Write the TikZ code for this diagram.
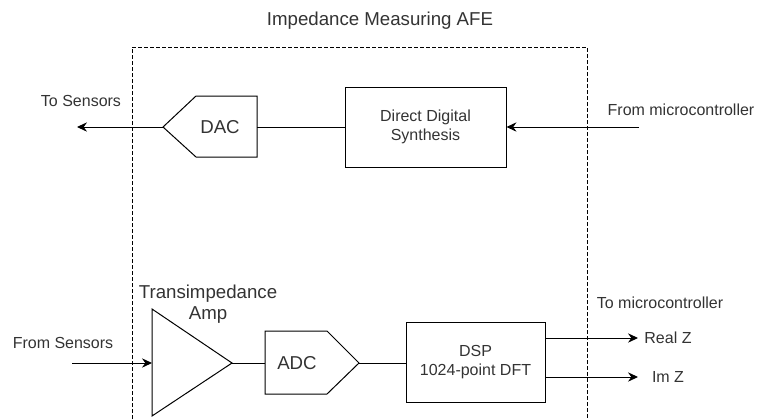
\documentclass[tikz,border=0pt]{standalone}
\usepackage{fontspec}
\setmainfont{Liberation Sans}
\usetikzlibrary{arrows.meta}
\definecolor{txt}{HTML}{333333}
\begin{document}
\begin{tikzpicture}[x=0.75pt,y=-0.75pt,line width=0.75pt,
  lbl/.style={text=txt,font=\fontsize{12}{14}\selectfont,inner sep=0pt,align=center},
  big/.style={text=txt,font=\fontsize{14}{16}\selectfont,inner sep=0pt,align=center},
  conn/.style={draw=black,-{Stealth[length=7.5pt,width=7pt,inset=2.5pt]}},
  blk/.style={draw=black,line width=0.75pt,inner sep=0pt},
  frame/.style={draw=black,line width=0.75pt,dash pattern=on 3pt off 1.5pt}]
\useasboundingbox (0,0) rectangle (758,419);
% frame
\draw[frame] (132,419) -- (132,47) -- (587,47) -- (587,419);
\node[big] (title) at (380,21) {Impedance Measuring AFE};
% DAC
\draw[blk] (163,127) -- (196,96) -- (257,96) -- (257,157) -- (196,157) -- cycle;
\node[big] (dac) at (220,127) {DAC};
\coordinate (dactip) at (163,127);
\coordinate (dacR) at (257,127);
% DDS
\node[blk,lbl,draw=black,minimum width=120.75pt,minimum height=60pt] (dds) at (425.5,127) {Direct Digital\\Synthesis};
\draw (dacR) -- (dds.west);
\coordinate (fm) at (639,127);
\draw[conn] (fm) -- (dds.east);
\node[lbl] (fmlbl) at (681,110) {From microcontroller};
\coordinate (ts) at (77,127);
\draw[conn] (dactip) -- (ts);
\node[lbl] (tslbl) at (81,101) {To Sensors};
% Amp
\draw[blk] (152,309) -- (232,363) -- (152,416) -- cycle;
\coordinate (ampL) at (152,363);
\coordinate (ampT) at (232,363);
\node[big,anchor=north] (amplbl) at (208,284) {Transimpedance\\Amp};
\coordinate (fs) at (72,363);
\draw[conn] (fs) -- (ampL);
\node[lbl] (fslbl) at (63,343) {From Sensors};
% ADC
\draw[blk] (265,331) -- (327,331) -- (359,363) -- (327,394) -- (265,394) -- cycle;
\node[big] (adc) at (297,363) {ADC};
\coordinate (adcL) at (265,363);
\coordinate (adcT) at (359,363);
\draw (ampT) -- (adcL);
% DSP
\node[blk,lbl,draw=black,minimum width=104.25pt,minimum height=60pt] (dsp) at (475.5,362) {DSP\\1024-point DFT};
\draw (adcT) -- (dsp.west |- adcT);
\coordinate (rz) at (638,338);
\coordinate (iz) at (638,377);
\draw[conn] (dsp.east |- rz) -- (rz);
\draw[conn] (dsp.east |- iz) -- (iz);
\node[lbl] (rzlbl) at (668,338) {Real Z};
\node[lbl] (izlbl) at (668,377) {Im Z};
\node[lbl] (tmlbl) at (660,303) {To microcontroller};
\end{tikzpicture}
\end{document}
